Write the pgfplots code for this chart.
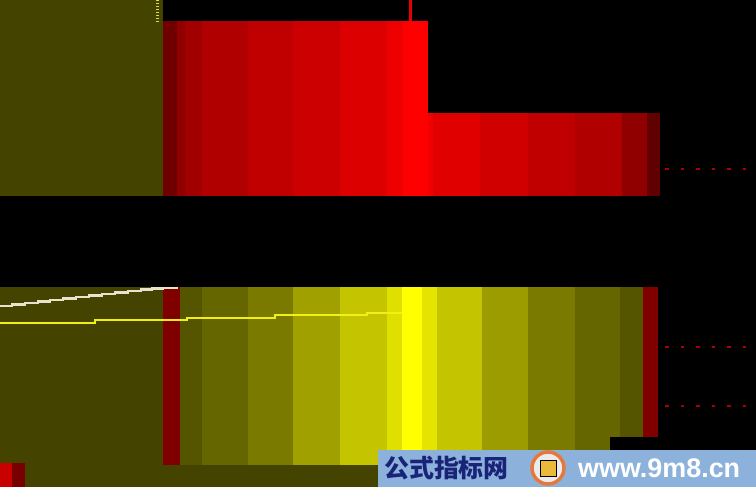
\documentclass[border=0pt]{standalone}
\usepackage{fontspec}
\setmainfont{Liberation Sans}
\newfontfamily\cjk{Noto Sans CJK SC}
\usepackage{pgfplots}
\pgfplotsset{compat=1.18}
% rectangle: x1 x2 y1 y2 R G B (pixel coordinates, y downward)
\newcommand\rect[7]{\addplot[fill={rgb,255:red,#5;green,#6;blue,#7},draw=none,forget plot] coordinates {(#1,#3) (#2,#3) (#2,#4) (#1,#4)} -- cycle;}
\begin{document}
\begin{tikzpicture}
\begin{axis}[scale only axis, width=756bp, height=487bp,
  xmin=0, xmax=756, ymin=0, ymax=487, y dir=reverse,
  hide axis, clip=true]
% background
\rect{0}{756}{0}{487}{0}{0}{0}
% ---- top panel ----
\rect{0}{163}{0}{196}{68}{68}{0}
\rect{163}{177}{21}{196}{112}{0}{0}
\rect{177}{185}{21}{196}{144}{0}{0}
\rect{185}{202}{21}{196}{160}{0}{0}
\rect{202}{248}{21}{196}{176}{0}{0}
\rect{248}{293}{21}{196}{192}{0}{0}
\rect{293}{340}{21}{196}{204}{0}{0}
\rect{340}{387}{21}{196}{221}{0}{0}
\rect{387}{403}{21}{196}{238}{0}{0}
\rect{403}{428}{21}{196}{255}{0}{0}
\rect{428}{433}{113}{196}{240}{0}{0}
\rect{433}{480}{113}{196}{224}{0}{0}
\rect{480}{528}{113}{196}{208}{0}{0}
\rect{528}{575}{113}{196}{192}{0}{0}
\rect{575}{622}{113}{196}{176}{0}{0}
\rect{622}{647}{113}{196}{144}{0}{0}
\rect{647}{660}{113}{196}{96}{0}{0}
\addplot[draw={rgb,255:red,230;green,0;blue,0}, line width=3bp, forget plot] coordinates {(410,0) (410,21)};
\addplot[draw={rgb,255:red,220;green,220;blue,60}, line width=3.5bp, dash pattern=on 1.5bp off 1.5bp, forget plot] coordinates {(157.5,0) (157.5,22)};
% ---- bottom panel ----
\rect{0}{163}{287}{487}{68}{68}{0}
\rect{163}{610}{465}{487}{68}{68}{0}
\rect{0}{12}{463}{487}{200}{0}{0}
\rect{12}{25}{463}{487}{120}{0}{0}
\rect{163}{180}{287}{465}{128}{0}{0}
\rect{180}{202}{287}{465}{85}{85}{0}
\rect{202}{248}{287}{465}{102}{102}{0}
\rect{248}{293}{287}{465}{122}{122}{0}
\rect{293}{340}{287}{465}{160}{160}{0}
\rect{340}{387}{287}{465}{196}{196}{0}
\rect{387}{402}{287}{465}{224}{224}{0}
\rect{402}{422}{287}{465}{255}{255}{0}
\rect{422}{437}{287}{465}{228}{228}{0}
\rect{437}{482}{287}{465}{196}{196}{0}
\rect{482}{528}{287}{465}{156}{156}{0}
\rect{528}{575}{287}{465}{122}{122}{0}
\rect{575}{620}{287}{465}{102}{102}{0}
\rect{620}{643}{287}{465}{85}{85}{0}
\rect{643}{658}{287}{465}{128}{0}{0}
\rect{610}{660}{437}{465}{0}{0}{0}
% lines
\addplot[draw={rgb,255:red,235;green,225;blue,205}, line width=2.6bp, const plot, forget plot] coordinates {
 (0,306) (12,304.5) (25,303) (38,301.5) (50,300) (63,298.5) (76,297) (89,295.5) (102,294) (115,292.5) (128,291) (141,289.5) (152,288.5) (163,288) (178,288)};
\addplot[draw={rgb,255:red,240;green,240;blue,20}, line width=2bp, const plot, forget plot] coordinates {
 (0,322.5) (95,319.5) (187,317.5) (275,315) (367,313) (402,313)};
% dotted reference lines
\addplot[draw={rgb,255:red,170;green,0;blue,0}, line width=2.2bp, dash pattern=on 3.5bp off 12bp, forget plot] coordinates {(665,169) (752,169)};
\addplot[draw={rgb,255:red,170;green,0;blue,0}, line width=2.2bp, dash pattern=on 3.5bp off 12bp, forget plot] coordinates {(665,347) (752,347)};
\addplot[draw={rgb,255:red,170;green,0;blue,0}, line width=2.2bp, dash pattern=on 3.5bp off 12bp, forget plot] coordinates {(665,406) (752,406)};
% watermark
\rect{378}{756}{450}{487}{140}{178}{220}
\addplot[only marks, mark=*, mark size=16bp, mark options={draw={rgb,255:red,230;green,120;blue,60}, line width=3.5bp, fill={rgb,255:red,235;green,235;blue,235}}, forget plot] coordinates {(548,468)};
\addplot[only marks, mark=square*, mark size=8bp, mark options={draw=none, fill={rgb,255:red,235;green,185;blue,60}}, forget plot] coordinates {(548,468)};
\node[anchor=west, inner sep=0pt, text={rgb,255:red,25;green,35;blue,120}] at (axis cs:384,468) {\cjk\bfseries\fontsize{25}{25}\selectfont 公式指标网};
\node[anchor=west, inner sep=0pt, text=white] at (axis cs:578,468) {\bfseries\fontsize{27}{27}\selectfont www.9m8.cn};
\end{axis}
\end{tikzpicture}
\end{document}
